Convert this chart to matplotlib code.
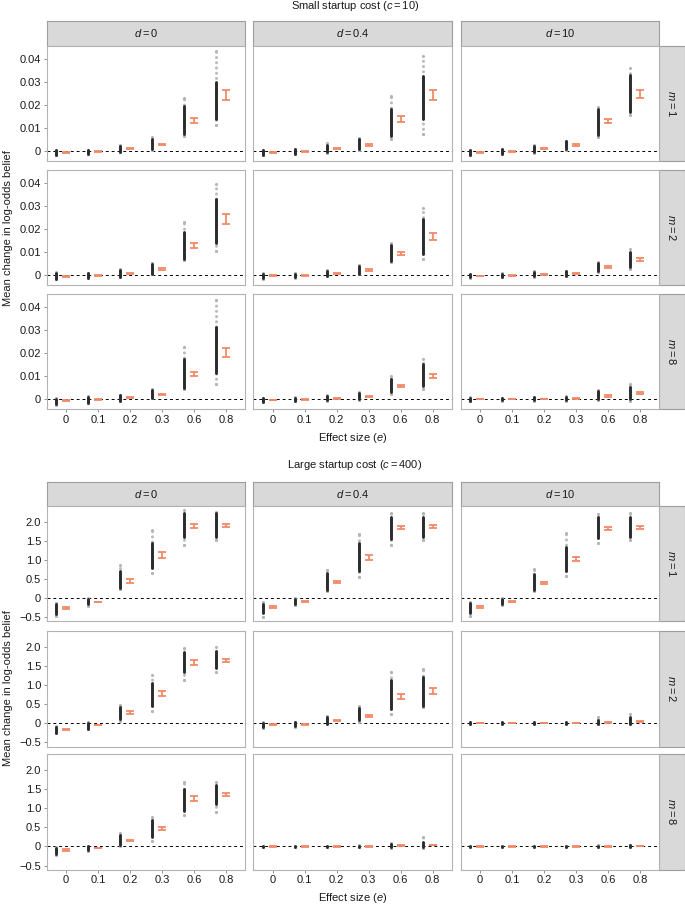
import matplotlib
matplotlib.use("Agg")
import matplotlib.pyplot as plt

# ==========================================================
# DATA  (rows: m = 1, 2, 8 ; cols: d = 0, 0.4, 10 ; 6 effect sizes)
# ==========================================================

effect_labels = ["0", "0.1", "0.2", "0.3", "0.6", "0.8"]
d_labels = ["0", "0.4", "10"]
m_labels = ["1", "2", "8"]

# --- small startup cost (c = 10) ---
small_mean = [
    [[-0.0007, -0.0003, 0.0010, 0.0029, 0.0134, 0.0243],
     [-0.0007, -0.0003, 0.0010, 0.0027, 0.0139, 0.0244],
     [-0.0007, -0.0003, 0.0010, 0.0027, 0.0130, 0.0248]],
    [[-0.0006, -0.0003, 0.0007, 0.0027, 0.0130, 0.0244],
     [-0.0003, -0.0001, 0.0009, 0.0023, 0.0094, 0.0169],
     [-0.0003, -0.0001, 0.0004, 0.0009, 0.0035, 0.0068]],
    [[-0.0006, -0.0003, 0.0006, 0.0020, 0.0108, 0.0204],
     [-0.0003, -0.0001, 0.0003, 0.0012, 0.0056, 0.0100],
     [0.0000, 0.0000, 0.0001, 0.0003, 0.0014, 0.0027]],
]
small_err = [
    [[0.0002, 0.0002, 0.0002, 0.0003, 0.0011, 0.0022],
     [0.0002, 0.0002, 0.0002, 0.0003, 0.0012, 0.0022],
     [0.0002, 0.0002, 0.0002, 0.0003, 0.0008, 0.0017]],
    [[0.0002, 0.0002, 0.0002, 0.0003, 0.0012, 0.0023],
     [0.0002, 0.0002, 0.0002, 0.0003, 0.0006, 0.0014],
     [0.0001, 0.0001, 0.0002, 0.0002, 0.0004, 0.0006]],
    [[0.0002, 0.0002, 0.0002, 0.0003, 0.0009, 0.0020],
     [0.0001, 0.0001, 0.0002, 0.0002, 0.0004, 0.0009],
     [0.0001, 0.0001, 0.0001, 0.0001, 0.0003, 0.0003]],
]
small_lo = [
    [[-0.0019, -0.0014, -0.0004, 0.0006, 0.0065, 0.0114],
     [-0.0019, -0.0014, -0.0006, 0.0007, 0.0053, 0.0075],
     [-0.0019, -0.0014, -0.0006, 0.0007, 0.0061, 0.0157]],
    [[-0.0017, -0.0014, -0.0010, 0.0004, 0.0064, 0.0107],
     [-0.0016, -0.0012, -0.0004, 0.0003, 0.0059, 0.0071],
     [-0.0012, -0.0009, -0.0007, -0.0004, 0.0013, 0.0025]],
    [[-0.0025, -0.0017, -0.0009, 0.0003, 0.0043, 0.0066],
     [-0.0014, -0.0010, -0.0007, -0.0003, 0.0022, 0.0043],
     [-0.0009, -0.0007, -0.0007, -0.0007, -0.0003, -0.0006]],
]
small_hi = [
    [[0.0006, 0.0007, 0.0026, 0.0063, 0.0232, 0.0437],
     [0.0007, 0.0010, 0.0035, 0.0059, 0.0241, 0.0414],
     [0.0007, 0.0010, 0.0028, 0.0046, 0.0194, 0.0363]],
    [[0.0012, 0.0010, 0.0026, 0.0052, 0.0231, 0.0399],
     [0.0009, 0.0009, 0.0023, 0.0042, 0.0139, 0.0294],
     [0.0006, 0.0009, 0.0016, 0.0020, 0.0059, 0.0114]],
    [[0.0003, 0.0012, 0.0019, 0.0043, 0.0228, 0.0430],
     [0.0007, 0.0009, 0.0017, 0.0029, 0.0101, 0.0173],
     [0.0009, 0.0007, 0.0010, 0.0013, 0.0040, 0.0065]],
]
small_core_lo = [
    [[-0.0017, -0.0013, -0.0003, 0.0008, 0.0075, 0.0140],
     [-0.0017, -0.0012, -0.0004, 0.0009, 0.0068, 0.0140],
     [-0.0017, -0.0012, -0.0004, 0.0009, 0.0071, 0.0169]],
    [[-0.0015, -0.0012, -0.0008, 0.0006, 0.0069, 0.0142],
     [-0.0014, -0.0010, -0.0002, 0.0005, 0.0063, 0.0092],
     [-0.0010, -0.0008, -0.0005, -0.0002, 0.0016, 0.0035]],
    [[-0.0022, -0.0015, -0.0007, 0.0005, 0.0048, 0.0113],
     [-0.0012, -0.0008, -0.0005, -0.0001, 0.0029, 0.0058],
     [-0.0007, -0.0005, -0.0005, -0.0005, 0.0000, 0.0000]],
]
small_core_hi = [
    [[0.0004, 0.0005, 0.0022, 0.0055, 0.0195, 0.0300],
     [0.0005, 0.0008, 0.0028, 0.0052, 0.0183, 0.0328],
     [0.0005, 0.0008, 0.0024, 0.0042, 0.0183, 0.0330]],
    [[0.0008, 0.0008, 0.0022, 0.0048, 0.0190, 0.0330],
     [0.0007, 0.0007, 0.0020, 0.0038, 0.0132, 0.0244],
     [0.0005, 0.0007, 0.0014, 0.0018, 0.0055, 0.0102]],
    [[0.0002, 0.0009, 0.0016, 0.0038, 0.0175, 0.0315],
     [0.0005, 0.0007, 0.0015, 0.0026, 0.0087, 0.0152],
     [0.0007, 0.0005, 0.0008, 0.0011, 0.0035, 0.0055]],
]

# --- large startup cost (c = 400) ---
large_mean = [
    [[-0.26, -0.10, 0.45, 1.13, 1.89, 1.89],
     [-0.23, -0.09, 0.42, 1.07, 1.84, 1.88],
     [-0.23, -0.09, 0.40, 1.02, 1.82, 1.85]],
    [[-0.17, -0.05, 0.28, 0.78, 1.59, 1.65],
     [-0.04, -0.03, 0.07, 0.19, 0.70, 0.85],
     [0.00, 0.00, 0.00, 0.00, 0.02, 0.04]],
    [[-0.09, -0.04, 0.16, 0.47, 1.26, 1.36],
     [0.00, 0.00, 0.00, 0.00, 0.02, 0.04],
     [0.00, 0.00, 0.00, 0.00, 0.00, 0.01]],
]
large_err = [
    [[0.02, 0.01, 0.05, 0.07, 0.05, 0.04],
     [0.02, 0.01, 0.03, 0.06, 0.04, 0.04],
     [0.02, 0.01, 0.03, 0.06, 0.04, 0.04]],
    [[0.02, 0.01, 0.03, 0.06, 0.06, 0.04],
     [0.01, 0.01, 0.01, 0.02, 0.07, 0.08],
     [0.005, 0.005, 0.005, 0.005, 0.01, 0.01]],
    [[0.02, 0.01, 0.02, 0.04, 0.07, 0.05],
     [0.005, 0.005, 0.005, 0.005, 0.01, 0.01],
     [0.005, 0.005, 0.005, 0.005, 0.005, 0.005]],
]
large_lo = [
    [[-0.47, -0.21, 0.23, 0.66, 1.39, 1.52],
     [-0.49, -0.17, 0.18, 0.55, 1.39, 1.52],
     [-0.47, -0.19, 0.18, 0.59, 1.44, 1.52]],
    [[-0.27, -0.16, 0.06, 0.32, 1.13, 1.34],
     [-0.13, -0.09, -0.03, 0.04, 0.25, 0.41],
     [-0.03, -0.03, -0.03, -0.03, -0.03, -0.03]],
    [[-0.21, -0.11, 0.01, 0.15, 0.81, 0.91],
     [-0.02, -0.02, -0.02, -0.02, -0.03, -0.03],
     [-0.02, -0.02, -0.02, -0.02, -0.02, -0.02]],
]
large_hi = [
    [[-0.12, 0.01, 0.87, 1.77, 2.30, 2.26],
     [-0.10, 0.01, 0.74, 1.67, 2.22, 2.23],
     [-0.09, 0.01, 0.76, 1.70, 2.20, 2.22]],
    [[-0.07, 0.02, 0.47, 1.25, 1.97, 1.98],
     [0.02, 0.03, 0.19, 0.45, 1.35, 1.41],
     [0.03, 0.03, 0.03, 0.04, 0.15, 0.23]],
    [[-0.01, 0.02, 0.35, 0.78, 1.69, 1.69],
     [0.02, 0.02, 0.02, 0.03, 0.08, 0.25],
     [0.02, 0.02, 0.02, 0.02, 0.03, 0.04]],
]
large_core_lo = [
    [[-0.42, -0.16, 0.27, 0.79, 1.61, 1.61],
     [-0.38, -0.15, 0.21, 0.70, 1.54, 1.59],
     [-0.38, -0.16, 0.21, 0.70, 1.57, 1.59]],
    [[-0.25, -0.14, 0.10, 0.45, 1.35, 1.44],
     [-0.11, -0.08, -0.01, 0.08, 0.36, 0.45],
     [-0.02, -0.02, -0.02, -0.02, -0.02, -0.02]],
    [[-0.19, -0.10, 0.03, 0.25, 0.94, 1.11],
     [-0.015, -0.015, -0.015, -0.015, -0.02, -0.02],
     [-0.015, -0.015, -0.015, -0.015, -0.015, -0.015]],
]
large_core_hi = [
    [[-0.16, -0.03, 0.70, 1.44, 2.23, 2.22],
     [-0.14, -0.01, 0.66, 1.44, 2.11, 2.11],
     [-0.12, -0.01, 0.62, 1.35, 2.13, 2.13]],
    [[-0.09, 0.00, 0.41, 1.05, 1.87, 1.89],
     [0.00, 0.02, 0.16, 0.39, 1.14, 1.20],
     [0.02, 0.02, 0.02, 0.03, 0.09, 0.15]],
    [[-0.03, 0.00, 0.30, 0.68, 1.50, 1.61],
     [0.015, 0.015, 0.015, 0.02, 0.06, 0.12],
     [0.015, 0.015, 0.015, 0.015, 0.02, 0.03]],
]

# ==========================================================
# STYLE
# ==========================================================

plt.rcParams["font.family"] = ["Liberation Sans", "DejaVu Sans"]
plt.rcParams["mathtext.fontset"] = "custom"
plt.rcParams["mathtext.rm"] = "Liberation Sans"
plt.rcParams["mathtext.it"] = "Liberation Sans:italic"
plt.rcParams["axes.unicode_minus"] = True

W, H = 685, 905
FS = 8
TXT = "#1a1a1a"
ORANGE = "#F08A68"
STRIP_FILL = "#D9D9D9"
STRIP_EDGE = "#9E9E9E"
FRAME = "#B3B3B3"

col_x = [46.7, 253.3, 460.7]
col_w = 198.5
strip_w = 685 - 659.2

fig = plt.figure(figsize=(W / 100, H / 100), dpi=100)


def px_axes(x0, y0, w, h):
    return fig.add_axes([x0 / W, 1 - (y0 + h) / H, w / W, h / H])


def strip(ax, label, rotation=0):
    ax.set_facecolor(STRIP_FILL)
    ax.set_xticks([])
    ax.set_yticks([])
    for s in ax.spines.values():
        s.set_color(STRIP_EDGE)
        s.set_linewidth(0.8)
    ax.text(0.5, 0.5, label, transform=ax.transAxes, ha="center",
            va="center", fontsize=FS, color=TXT, rotation=rotation)


def draw_block(title, title_y, strip_y, row_tops, row_h, ylim, yticks,
               yticklabels, mean, err, lo, hi, core_lo, core_hi,
               xlabel_y, ylabel_y):
    fig.text(355 / W, 1 - title_y / H, title, ha="center", va="center",
             fontsize=FS, color=TXT)

    for j, d in enumerate(d_labels):
        sax = px_axes(col_x[j], strip_y, col_w, row_tops[0] - strip_y)
        strip(sax, "$d = " + d + "$")

    xs = list(range(len(effect_labels)))
    xs_pts = [x - 0.3 for x in xs]

    for i, m in enumerate(m_labels):
        rax = px_axes(659.2, row_tops[i], strip_w, row_h)
        strip(rax, "$m = " + m + "$", rotation=-90)

        for j in range(3):
            ax = px_axes(col_x[j], row_tops[i], col_w, row_h)
            ax.set_xlim(-0.6, 5.6)
            ax.set_ylim(*ylim)
            for s in ax.spines.values():
                s.set_color(FRAME)
                s.set_linewidth(0.8)

            ax.axhline(0, color="black", lw=0.7, ls=(0, (3, 3)), zorder=1)

            # individual runs: sparse outer cloud + dense core
            ax.vlines(xs_pts, lo[i][j], hi[i][j], color="#BBBBBB", lw=2.2,
                      linestyles=(0, (0.01, 1.7)), capstyle="round",
                      zorder=2)
            ax.scatter(xs_pts, lo[i][j], s=5, color="#B5B5B5", lw=0,
                       zorder=2)
            ax.scatter(xs_pts, hi[i][j], s=5, color="#B5B5B5", lw=0,
                       zorder=2)
            ax.vlines(xs_pts, core_lo[i][j], core_hi[i][j], color="#2b2b2b",
                      lw=2.1, capstyle="round", zorder=3)

            ax.errorbar(xs, mean[i][j], yerr=err[i][j], fmt="none",
                        ecolor=ORANGE, elinewidth=1.3, capsize=2.6,
                        capthick=1.3, zorder=4)

            ax.set_xticks(xs)
            ax.set_yticks(yticks)
            ax.tick_params(length=2.5, width=0.6, color="#7F7F7F",
                           labelsize=FS, labelcolor=TXT, pad=1.5)
            if j == 0:
                ax.set_yticklabels(yticklabels)
            else:
                ax.tick_params(axis="y", length=0, labelleft=False)
            if i == 2:
                ax.set_xticklabels(effect_labels)
            else:
                ax.tick_params(axis="x", length=0, labelbottom=False)

    fig.text(353 / W, 1 - xlabel_y / H, "Effect size ($e$)", ha="center",
             va="center", fontsize=FS, color=TXT)
    fig.text(8 / W, 1 - ylabel_y / H, "Mean change in log-odds belief",
             ha="center", va="center", rotation=90, fontsize=FS, color=TXT)


# ==========================================================
# TOP BLOCK : SMALL STARTUP COST
# ==========================================================

draw_block("Small startup cost ($c = 10$)", 6, 20.7,
           [46, 170, 294], 115, (-0.0043, 0.0458),
           [0, 0.01, 0.02, 0.03, 0.04], ["0", "0.01", "0.02", "0.03", "0.04"],
           small_mean, small_err, small_lo, small_hi,
           small_core_lo, small_core_hi, 438, 228)

# ==========================================================
# BOTTOM BLOCK : LARGE STARTUP COST
# ==========================================================

draw_block("Large startup cost ($c = 400$)", 465, 481.7,
           [506, 631, 754.3], 115.5, (-0.61, 2.41),
           [-0.5, 0, 0.5, 1.0, 1.5, 2.0],
           ["\u22120.5", "0", "0.5", "1.0", "1.5", "2.0"],
           large_mean, large_err, large_lo, large_hi,
           large_core_lo, large_core_hi, 898, 688)

fig.savefig("out.png", dpi=100)
